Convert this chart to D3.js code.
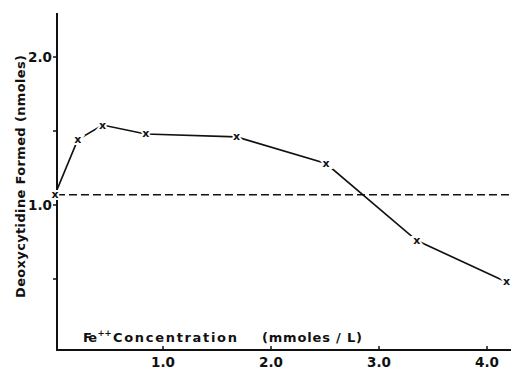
<!DOCTYPE html>
<html><head><meta charset="utf-8">
<script src="https://cdn.jsdelivr.net/npm/d3@7"></script>
<style>body{margin:0;background:#fff}svg{display:block}text{font-family:"DejaVu Sans",sans-serif;font-weight:bold;fill:#111}</style>
</head><body><svg id="c" width="511" height="369"></svg>
<script>
const concentration = [0, 0.21, 0.44, 0.84, 1.68, 2.51, 3.35, 4.18];
const deoxycytidine = [1.07, 1.44, 1.54, 1.48, 1.46, 1.28, 0.76, 0.48];
const controlLevel = 1.07;
const xTicks = [1.0, 2.0, 3.0, 4.0];
const yTicks = [0.5, 1.0, 1.5, 2.0];
const yLabels = [1.0, 2.0];

const svg = d3.select("#c");
const x = d3.scaleLinear().domain([0, 4]).range([55, 487]);
const y = d3.scaleLinear().domain([0, 2]).range([353, 57]);
const axX = 57, axY = 350;

// y axis
svg.append("line").attr("x1", axX).attr("x2", axX).attr("y1", 13).attr("y2", axY+1)
  .attr("stroke", "#111").attr("stroke-width", 2);
svg.selectAll(".yt").data(yTicks).join("line")
  .attr("x1", axX-4).attr("x2", axX).attr("y1", d => y(d)).attr("y2", d => y(d))
  .attr("stroke", "#111").attr("stroke-width", 1.5);
svg.selectAll(".yl").data(yLabels).join("text")
  .attr("x", 52).attr("y", d => y(d)+5).attr("text-anchor", "end")
  .attr("font-size", 13.5).text(d => d.toFixed(1));

// x axis
svg.append("line").attr("x1", axX-1).attr("x2", 511).attr("y1", axY).attr("y2", axY)
  .attr("stroke", "#111").attr("stroke-width", 2);
svg.selectAll(".xt").data(xTicks).join("line")
  .attr("x1", d => x(d)).attr("x2", d => x(d)).attr("y1", axY).attr("y2", axY-4)
  .attr("stroke", "#111").attr("stroke-width", 1.5);
svg.selectAll(".xl").data(xTicks).join("text")
  .attr("x", d => x(d)).attr("y", 367).attr("text-anchor", "middle")
  .attr("font-size", 13.5).text(d => d.toFixed(1));

// control dashed line
svg.append("line").attr("x1", axX).attr("x2", 511).attr("y1", y(controlLevel)).attr("y2", y(controlLevel))
  .attr("stroke", "#111").attr("stroke-width", 1.5).attr("stroke-dasharray", "8,4");

// data line
const pts = concentration.map((c, i) => [x(c), y(deoxycytidine[i])]);
svg.append("path").attr("d", d3.line()(pts)).attr("fill", "none")
  .attr("stroke", "#111").attr("stroke-width", 1.6);
svg.selectAll(".m").data(pts).join("text")
  .attr("x", d => d[0]).attr("y", d => d[1]+3.5).attr("text-anchor", "middle")
  .attr("font-size", 11).attr("stroke", "#fff").attr("stroke-width", 4)
  .attr("paint-order", "stroke").text("x");

// axis titles
svg.append("text").attr("transform", "translate(25,176.5) rotate(-90)")
  .attr("text-anchor", "middle").attr("font-size", 13)
  .attr("textLength", 243).attr("lengthAdjust", "spacing")
  .text("Deoxycytidine Formed  (nmoles)");
svg.append("text").attr("x", 83).attr("y", 342).attr("font-size", 13)
  .attr("textLength", 14).attr("lengthAdjust", "spacing").text("Fe");
svg.append("text").attr("x", 97.5).attr("y", 336).attr("font-size", 8.5).text("++");
svg.append("text").attr("x", 113).attr("y", 342).attr("font-size", 13)
  .attr("textLength", 124).attr("lengthAdjust", "spacing").text("Concentration");
svg.append("text").attr("x", 262).attr("y", 342).attr("font-size", 13)
  .attr("textLength", 100).attr("lengthAdjust", "spacing").text("(mmoles / L)");
</script></body></html>
